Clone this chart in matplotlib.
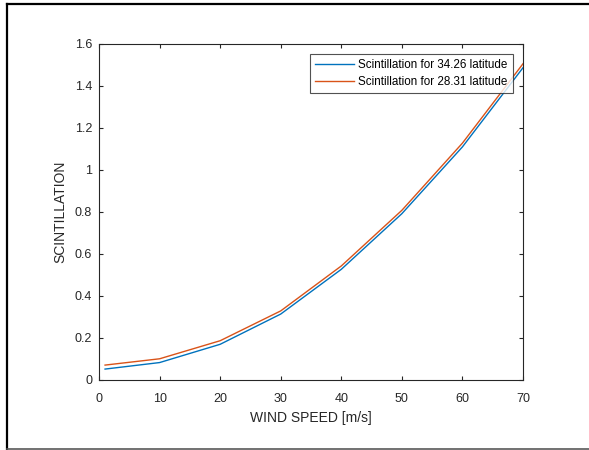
import numpy as np
import matplotlib.pyplot as plt
from matplotlib.lines import Line2D

plt.rcParams['font.family'] = ['Liberation Sans', 'DejaVu Sans']

# wind speed and scintillation readings
wind = [1, 10, 20, 30, 40, 50, 60, 70]
scint_3426 = [0.052, 0.083, 0.170, 0.314, 0.527, 0.792, 1.110, 1.487]
scint_2831 = [0.071, 0.101, 0.187, 0.329, 0.543, 0.808, 1.128, 1.506]
labels = ['Scintillation for 34.26 latitude', 'Scintillation for 28.31 latitude']

fig = plt.figure(figsize=(5.89, 4.5), dpi=100)
ax = fig.add_axes([99/589, 1 - 380/450, 424/589, 336/450])

ax.plot(wind, scint_3426, color=(0, 0.447, 0.741), lw=1.0, label=labels[0])
ax.plot(wind, scint_2831, color=(0.85, 0.325, 0.098), lw=1.0, label=labels[1])

ax.set_xlim(0, 70)
ax.set_ylim(0, 1.6)
ax.set_xticks(np.arange(0, 71, 10))
ax.set_yticks(np.arange(0, 1.61, 0.2))
ax.set_yticklabels(['0', '0.2', '0.4', '0.6', '0.8', '1', '1.2', '1.4', '1.6'])

grey = (0.15, 0.15, 0.15)
for s in ax.spines.values():
    s.set_color(grey)
    s.set_linewidth(0.8)
ax.tick_params(direction='in', top=True, right=True, length=3, width=0.8,
               colors=grey, labelsize=9, pad=5)
ax.tick_params(axis='x', pad=9)
ax.set_xlabel('WIND SPEED [m/s]', fontsize=10, color=grey, labelpad=5)
ax.set_ylabel('SCINTILLATION', fontsize=10, color=grey, labelpad=5)

leg = ax.legend(loc='upper right', fontsize=8.4, frameon=True, fancybox=False,
                borderpad=0.4, handlelength=3.4, handletextpad=0.35,
                labelspacing=0.45, borderaxespad=0.9)
leg.get_frame().set_edgecolor(grey)
leg.get_frame().set_linewidth(0.8)

# outer frame of the screenshot
fig.add_artist(Line2D([7/589, 1], [1 - 4/450] * 2, color='black', lw=1.6, transform=fig.transFigure))
fig.add_artist(Line2D([7/589] * 2, [1 - 4/450, 1 - 449/450], color='black', lw=1.6, transform=fig.transFigure))
fig.add_artist(Line2D([7/589, 1], [1 - 449/450] * 2, color='0.35', lw=1.2, transform=fig.transFigure))

plt.savefig('out.png', dpi=100)
